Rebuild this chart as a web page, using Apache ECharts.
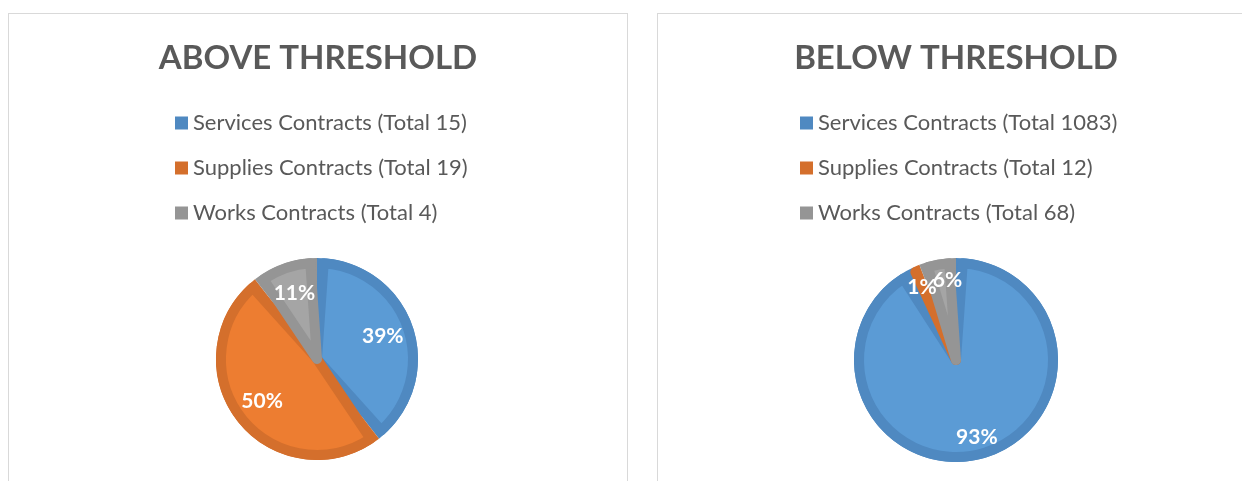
<!DOCTYPE html>
<html>
<head>
<meta charset="utf-8">
<script src="https://cdn.jsdelivr.net/npm/echarts@6/dist/echarts.min.js"></script>
<style>
  body { margin: 0; background: #fff; overflow: hidden; }
  .panel {
    position: absolute;
    top: 13px;
    height: 500px;
    border: 1px solid #d9d9d9;
    box-sizing: border-box;
  }
  #above { left: 8px; width: 620px; }
  #below { left: 657px; width: 598px; }
  .chart { width: 100%; height: 100%; }
</style>
</head>
<body>
<div class="panel" id="above"><div class="chart" id="aboveChart"></div></div>
<div class="panel" id="below"><div class="chart" id="belowChart"></div></div>
<script>
const categories = ['Services Contracts', 'Supplies Contracts', 'Works Contracts'];
const aboveTotals = [15, 19, 4];
const belowTotals = [1083, 12, 68];
const fillColors = ['#5b9bd5', '#ed7d31', '#a5a5a5'];
const edgeColors = ['#4f89c1', '#d46f2c', '#959595'];

function makeOption(title, totals, layout) {
  let names = categories.map((c, i) => c + ' (Total ' + totals[i] + ')');
  return {
    animation: false,
    title: {
      text: title,
      left: 'center',
      top: 23,
      textStyle: { fontFamily: 'Lato', fontWeight: 'bold', fontSize: 33, color: '#595959' }
    },
    legend: {
      orient: 'vertical',
      left: layout.legendLeft,
      top: 93,
      icon: 'rect',
      itemWidth: 13,
      itemHeight: 13,
      itemGap: 23,
      selectedMode: false,
      data: names.map((n, i) => ({ name: n, itemStyle: { color: edgeColors[i] } })),
      textStyle: { fontFamily: 'Lato', fontSize: 22, color: '#595959', lineHeight: 22 }
    },
    series: [
      {
        // outer (border) colour of each slice
        type: 'pie',
        center: layout.center,
        radius: [0, layout.r],
        silent: true,
        label: { show: false },
        labelLine: { show: false },
        data: names.map((n, i) => ({
          name: n, value: totals[i], itemStyle: { color: edgeColors[i] }
        }))
      },
      {
        // lighter inside of each slice
        type: 'pie',
        center: layout.center,
        radius: [0, layout.r - 5],
        padAngle: 8,
        silent: true,
        label: { show: false },
        labelLine: { show: false },
        itemStyle: { borderWidth: 10, borderJoin: 'round' },
        data: names.map((n, i) => ({
          name: n, value: totals[i],
          itemStyle: { color: fillColors[i], borderColor: edgeColors[i] }
        }))
      },
      {
        // labels only
        type: 'pie',
        center: layout.center,
        radius: [layout.r0, layout.r],
        startAngle: layout.labelStart,
        minAngle: 18,
        silent: true,
        percentPrecision: 0,
        itemStyle: { color: 'rgba(0,0,0,0)' },
        labelLayout: { hideOverlap: false },
        label: {
          position: 'inside',
          formatter: '{d}%',
          color: '#fff',
          fontFamily: 'Lato',
          fontWeight: 'bold',
          fontSize: 21
        },
        labelLine: { show: false },
        data: names.map((n, i) => ({ name: n, value: totals[i] }))
      }
    ]
  };
}

let aboveChart = echarts.init(document.getElementById('aboveChart'));
aboveChart.setOption(makeOption('ABOVE THRESHOLD', aboveTotals,
  { legendLeft: 161, center: [308, 345], r: 101, r0: 32, labelStart: 90 }));

let belowChart = echarts.init(document.getElementById('belowChart'));
belowChart.setOption(makeOption('BELOW THRESHOLD', belowTotals,
  { legendLeft: 137, center: [298, 346], r: 102, r0: 52, labelStart: 86 }));
</script>
</body>
</html>
